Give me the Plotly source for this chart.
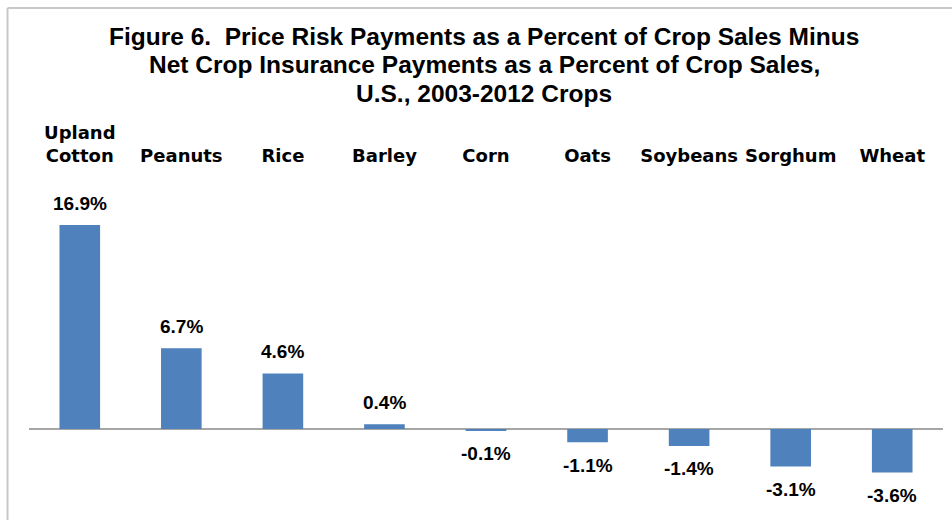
import plotly.graph_objects as go

categories = ["Upland<br>Cotton", "Peanuts", "Rice", "Barley", "Corn", "Oats", "Soybeans", "Sorghum", "Wheat"]
values = [16.9, 6.7, 4.6, 0.4, -0.1, -1.1, -1.4, -3.1, -3.6]
labels = ["16.9%", "6.7%", "4.6%", "0.4%", "-0.1%", "-1.1%", "-1.4%", "-3.1%", "-3.6%"]
title_lines = [
    "Figure 6.  Price Risk Payments as a Percent of Crop Sales Minus",
    "Net Crop Insurance Payments as a Percent of Crop Sales,",
    "U.S., 2003-2012 Crops",
]

W, H = 952, 520
L, R, T, B = 29, 9, 167, 5
plot_w = W - L - R
plot_h = H - T - B

fig = go.Figure()
fig.add_trace(go.Bar(
    x=categories, y=values,
    marker=dict(color="#4F81BD", line=dict(width=0)),
    width=0.4,
    hoverinfo="skip",
))

for c, v, t in zip(categories, values, labels):
    fig.add_annotation(
        x=c, y=v, text=t, showarrow=False,
        yanchor="middle", xanchor="center",
        yshift=22 if v > 0 else -23,
        font=dict(family="Liberation Sans, Arial, sans-serif", size=19, color="#000000", weight="bold"),
    )

def px_x(p):
    return (p - L) / plot_w

def px_y(p):
    return (H - B - p) / plot_h

# title, one annotation per line
for i, line in enumerate(title_lines):
    fig.add_annotation(
        xref="paper", yref="paper", x=px_x(484), y=px_y(37 + 28 * i),
        text=line, showarrow=False, xanchor="center", yanchor="middle",
        font=dict(family="Liberation Sans, Arial, sans-serif", size=24.5, color="#000000", weight="bold"),
    )

# chart frame (light gray border, left and top visible)
fig.add_shape(type="line", xref="paper", yref="paper",
              x0=px_x(7.5), x1=px_x(7.5), y0=px_y(8), y1=px_y(530),
              line=dict(color="#c8c8c8", width=2))
fig.add_shape(type="line", xref="paper", yref="paper",
              x0=px_x(7.5), x1=px_x(960), y0=px_y(8), y1=px_y(8),
              line=dict(color="#c8c8c8", width=2))

fig.update_layout(
    width=W, height=H,
    margin=dict(l=L, r=R, t=T, b=B),
    paper_bgcolor="white", plot_bgcolor="white",
    showlegend=False,
    xaxis=dict(
        side="top", showline=False, showgrid=False, ticks="",
        tickfont=dict(family="DejaVu Sans, Verdana, sans-serif", size=18, color="#000000", weight="bold"),
        fixedrange=True,
    ),
    yaxis=dict(
        range=[-7.125, 21.71], showgrid=False, showticklabels=False, ticks="",
        zeroline=True, zerolinecolor="#a6a6a6", zerolinewidth=2,
        showline=False, fixedrange=True,
    ),
)

fig.write_html("out.html", config={"displayModeBar": False})
